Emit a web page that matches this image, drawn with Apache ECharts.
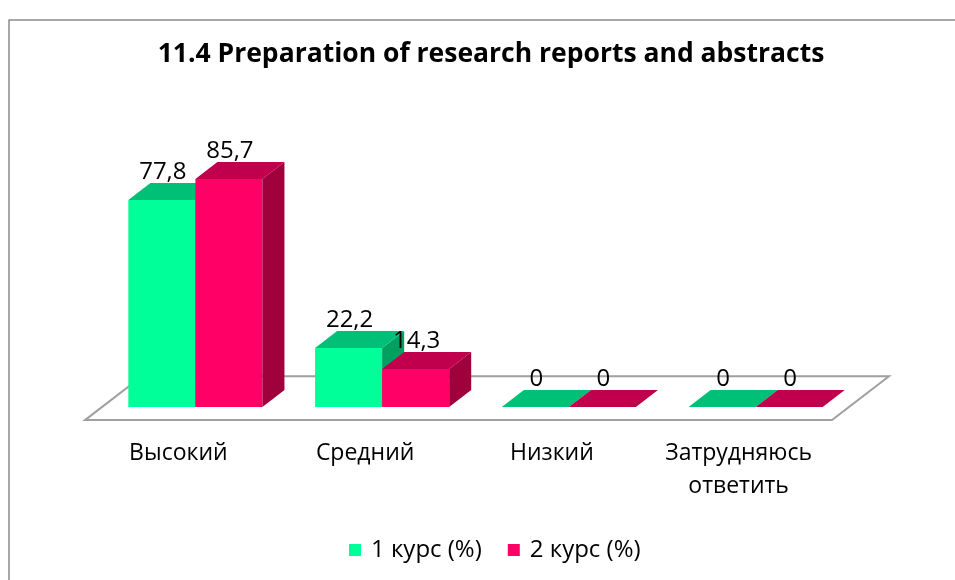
<!DOCTYPE html>
<html>
<head>
<meta charset="utf-8">
<script src="https://cdn.jsdelivr.net/npm/echarts@6/dist/echarts.min.js"></script>
<style>html,body{margin:0;padding:0;background:#fff}#c{width:955px;height:580px}</style>
</head>
<body>
<div id="c"></div>
<script>
const titleText = '11.4 Preparation of research reports and abstracts';
const categories = ['Высокий', 'Средний', 'Низкий', 'Затрудняюсь ответить'];
const seriesNames = ['1 курс (%)', '2 курс (%)'];
const course1 = [77.8, 22.2, 0, 0];
const course2 = [85.7, 14.3, 0, 0];

const FONT = 'Open Sans';
const palettes = [
  { front: '#00FF99', top: '#00C078', side: '#00A060' },
  { front: '#FF0066', top: '#C0004C', side: '#A0003C' }
];

function fmt(v) { return String(v).replace('.', ','); }

function barRenderer(idx) {
  const pal = palettes[idx];
  return function (params, api) {
    const cat = api.value(0), v = api.value(1);
    const base = api.coord([cat, 0]);
    const top = api.coord([cat, v]);
    const band = api.size([1, 0])[0];
    const w = band * 0.359;
    const dx = band * 0.118;
    const dy = dx * 0.77;
    const x0 = idx === 0 ? base[0] - w : base[0];
    const x1 = x0 + w;
    const yb = base[1], yt = top[1];
    const children = [];
    if (yb - yt > 0.5) {
      children.push({ type: 'rect', shape: { x: x0, y: yt, width: w, height: yb - yt }, style: { fill: pal.front } });
      children.push({ type: 'polygon', shape: { points: [[x1, yt], [x1 + dx, yt - dy], [x1 + dx, yb - dy], [x1, yb]] }, style: { fill: pal.side } });
    }
    children.push({ type: 'polygon', shape: { points: [[x0, yt], [x0 + dx, yt - dy], [x1 + dx, yt - dy], [x1, yt]] }, style: { fill: pal.top } });
    children.push({ type: 'text', z2: 10, style: { x: x0 + w / 2 + 1, y: yt - dy + 1, text: fmt(v), align: 'center', verticalAlign: 'bottom', fill: '#000', font: '24px "' + FONT + '"' } });
    return { type: 'group', children: children };
  };
}

function floorRenderer(params, api) {
  const band = api.size([1, 0])[0];
  const first = api.coord([0, 0]);
  const last = api.coord([categories.length - 1, 0]);
  const L = first[0] - band / 2, R = last[0] + band / 2, B = first[1];
  const fdx = band * 0.091, fdy = fdx * 0.77;
  const bdx = band * 0.214, bdy = bdx * 0.77;
  return {
    type: 'polygon',
    shape: { points: [[L - fdx, B + fdy], [R - fdx, B + fdy], [R + bdx, B - bdy], [L + bdx, B - bdy]] },
    style: { fill: '#fff', stroke: '#A0A0A0', lineWidth: 2 }
  };
}

const chart = echarts.init(document.getElementById('c'), null, { renderer: 'canvas' });
chart.setOption({
  animation: false,
  backgroundColor: '#fff',
  textStyle: { fontFamily: FONT },
  graphic: [{ type: 'rect', shape: { x: 9, y: 20, width: 1000, height: 600 }, style: { fill: 'none', stroke: '#8C8C8C', lineWidth: 1.5 }, z: 100 }],
  title: {
    text: titleText, left: 486, top: 36, textAlign: 'center',
    textStyle: { fontFamily: FONT, fontWeight: 'bold', fontSize: 26.5, color: '#000' }
  },
  legend: {
    data: seriesNames, left: 344, top: 533, icon: 'rect', itemWidth: 12, itemHeight: 12, itemGap: 26,
    textStyle: { fontFamily: FONT, fontSize: 24, color: '#000', padding: [0, 0, 0, 5] }
  },
  grid: { left: 102, top: 141, width: 747, height: 266 },
  xAxis: {
    type: 'category', data: categories,
    axisLine: { show: false }, axisTick: { show: false }, splitLine: { show: false },
    axisLabel: {
      margin: 30, fontFamily: FONT, fontSize: 23, color: '#000', lineHeight: 33,
      padding: [0, 34, 0, 0], interval: 0,
      formatter: function (v) { return v.length > 12 ? v.replace(' ', '\n') : v; }
    }
  },
  yAxis: { type: 'value', min: 0, max: 100, show: false },
  series: [
    { type: 'custom', name: 'floor', z: 1, renderItem: floorRenderer, data: [[0, 0]], silent: true, encode: { x: 0, y: 1 } },
    { type: 'custom', name: seriesNames[0], z: 2, itemStyle: { color: palettes[0].front }, renderItem: barRenderer(0), data: course1.map((v, i) => [i, v]), encode: { x: 0, y: 1 } },
    { type: 'custom', name: seriesNames[1], z: 3, itemStyle: { color: palettes[1].front }, renderItem: barRenderer(1), data: course2.map((v, i) => [i, v]), encode: { x: 0, y: 1 } }
  ]
});
</script>
</body>
</html>
